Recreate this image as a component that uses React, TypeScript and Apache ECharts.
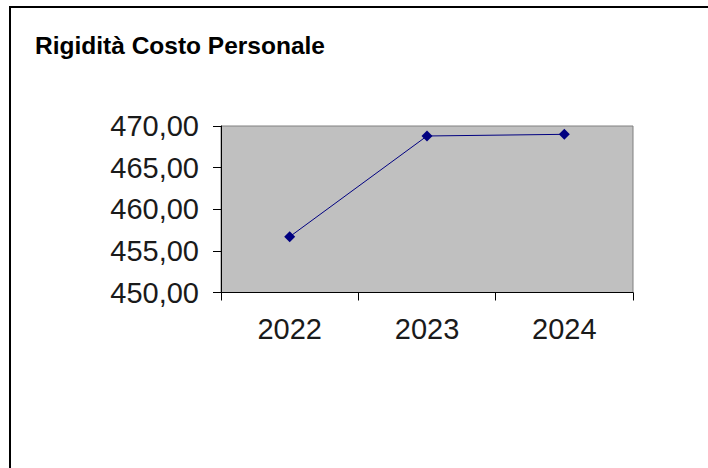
import React, { useEffect, useRef } from "react";
import * as echarts from "echarts";

const titleText = "Rigidità Costo Personale";
const categories = ["2022", "2023", "2024"];
const values = [456.7, 468.8, 469.0];
const yMin = 450;
const yMax = 470;
const yStep = 5;

const FONT = "'Liberation Sans', Arial, sans-serif";

export default function App() {
  const ref = useRef<HTMLDivElement>(null);
  useEffect(() => {
    if (!ref.current) return;
    const chart = echarts.init(ref.current, undefined, { renderer: "svg" });
    chart.setOption({
      animation: false,
      backgroundColor: "#ffffff",
      title: {
        text: titleText,
        left: 30,
        top: 28,
        textStyle: { fontFamily: FONT, fontSize: 24.5, fontWeight: "bold", color: "#000000" },
      },
      graphic: [
        {
          type: "rect",
          shape: { x: 10, y: 7, width: 760, height: 520 },
          style: { fill: "none", stroke: "#000000", lineWidth: 2 },
          silent: true,
        },
      ],
      grid: {
        left: 221,
        top: 126,
        right: 75,
        bottom: 175.5,
        show: true,
        backgroundColor: "#C0C0C0",
        borderColor: "#808080",
        borderWidth: 1,
      },
      xAxis: {
        type: "category",
        data: categories,
        boundaryGap: true,
        axisLine: { show: true, lineStyle: { color: "#000000", width: 1 } },
        axisTick: { show: true, length: 8, alignWithLabel: false, lineStyle: { color: "#000000" } },
        axisLabel: { fontFamily: FONT, fontSize: 29, color: "#1a1a1a", margin: 22 },
        splitLine: { show: false },
      },
      yAxis: {
        type: "value",
        min: yMin,
        max: yMax,
        interval: yStep,
        axisLine: { show: true, lineStyle: { color: "#000000", width: 1 } },
        axisTick: { show: true, length: 8, lineStyle: { color: "#000000" } },
        axisLabel: {
          fontFamily: FONT,
          fontSize: 29,
          color: "#1a1a1a",
          margin: 22,
          formatter: (v: number) => v.toFixed(2).replace(".", ","),
        },
        splitLine: { show: false },
      },
      series: [
        {
          type: "line",
          data: values,
          symbol: "diamond",
          symbolSize: 11,
          lineStyle: { color: "#000080", width: 1 },
          itemStyle: { color: "#000080" },
        },
      ],
    });
    return () => chart.dispose();
  }, []);
  return (
    <div
      ref={ref}
      style={{ position: "fixed", left: 0, top: 0, width: 708, height: 468 }}
    />
  );
}
